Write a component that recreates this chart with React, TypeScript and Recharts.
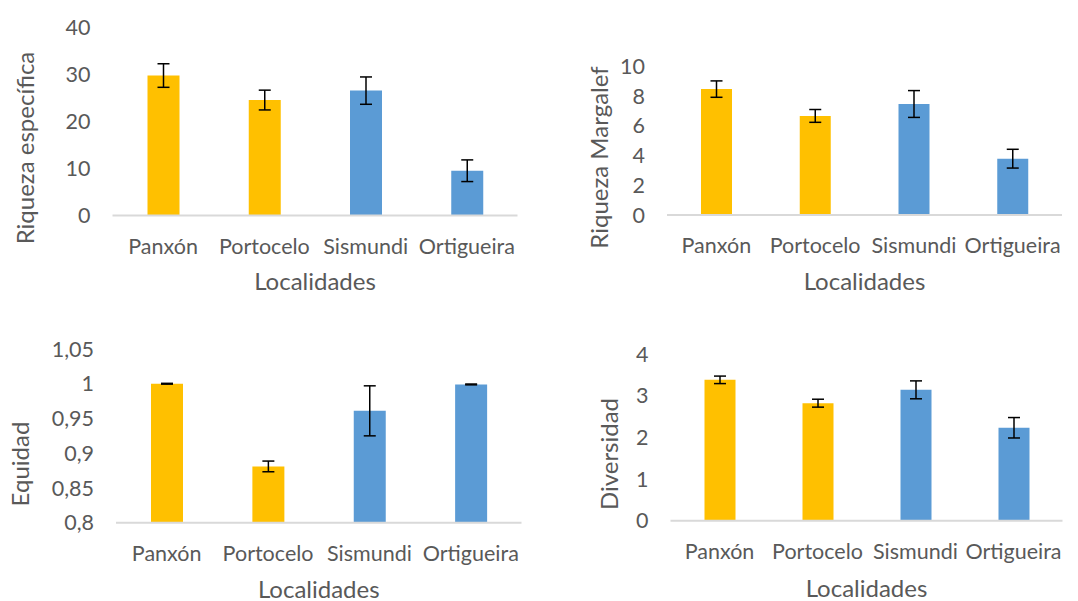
import React from 'react';
import { BarChart, Bar, XAxis, YAxis, Cell, ErrorBar, Label } from 'recharts';

const localidades = ['Panxón', 'Portocelo', 'Sismundi', 'Ortigueira'];

const riquezaEspecifica = [29.7, 24.5, 26.5, 9.5];
const riquezaEspecificaErr = [2.5, 2.1, 2.9, 2.3];
const riquezaEspecificaTicks = [0, 10, 20, 30, 40];

const riquezaMargalef = [8.45, 6.65, 7.45, 3.78];
const riquezaMargalefErr = [0.55, 0.43, 0.9, 0.63];
const riquezaMargalefTicks = [0, 2, 4, 6, 8, 10];

const equidad = [1.0, 0.881, 0.961, 0.999];
const equidadErr = [0.0006, 0.0077, 0.036, 0.0006];
const equidadTicks = [0.8, 0.85, 0.9, 0.95, 1, 1.05];

const diversidad = [3.38, 2.82, 3.14, 2.23];
const diversidadErr = [0.09, 0.095, 0.215, 0.245];
const diversidadTicks = [0, 1, 2, 3, 4];

const barColors = ['#FFC000', '#FFC000', '#5B9BD5', '#5B9BD5'];
const TEXT = '#595959';
const FONT = 'Lato, "Open Sans", sans-serif';
const TICK_SIZE = 21.5;
const TITLE_SIZE = 24;

type Box = { left: number; top: number; width: number; height: number };
type Plot = { l: number; r: number; t: number; b: number };

interface PanelProps {
  values: number[];
  errors: number[];
  ticks: number[];
  yTitle: string;
  box: Box;
  plot: Plot; // plot area in page coordinates
  yTitleAt: [number, number]; // centre of rotated title, page coordinates
  xTitleBaseline: number;
  barSize: number;
}

const fmt = (v: number) => String(v).replace('.', ',');

function Panel({ values, errors, ticks, yTitle, box, plot, yTitleAt, xTitleBaseline, barSize }: PanelProps) {
  const data = localidades.map((name, i) => ({ name, value: values[i], err: errors[i] }));
  const yAxisWidth = plot.l - box.left;
  const xAxisHeight = 40;
  const margin = {
    top: plot.t - box.top,
    left: 0,
    right: box.left + box.width - plot.r,
    bottom: box.top + box.height - plot.b - xAxisHeight,
  };
  const yx = yTitleAt[0] - box.left;
  const yy = yTitleAt[1] - box.top;
  const xBase = xTitleBaseline - box.top;

  return (
    <div style={{ position: 'absolute', left: box.left, top: box.top }}>
      <BarChart width={box.width} height={box.height} data={data} margin={margin} barSize={barSize}>
        <XAxis
          dataKey="name"
          height={xAxisHeight}
          axisLine={{ stroke: '#D9D9D9', strokeWidth: 2 }}
          tickLine={false}
          tickSize={0}
          tickMargin={0}
          interval={0}
          tick={({ x, y, payload }: any) => (
            <text x={x} y={y + 38} textAnchor="middle" fill={TEXT} fontSize={TICK_SIZE} fontFamily={FONT}>
              {payload.value}
            </text>
          )}
        >
          <Label
            content={({ viewBox }: any) => (
              <text
                x={viewBox.x + viewBox.width / 2}
                y={xBase}
                textAnchor="middle"
                fill={TEXT}
                fontSize={TITLE_SIZE}
                fontFamily={FONT}
              >
                Localidades
              </text>
            )}
          />
        </XAxis>
        <YAxis
          width={yAxisWidth}
          domain={[ticks[0], ticks[ticks.length - 1]]}
          ticks={ticks}
          axisLine={false}
          tickLine={false}
          tickSize={0}
          tickMargin={22}
          tick={({ x, y, payload }: any) => (
            <text x={x} y={y} dy="0.36em" textAnchor="end" fill={TEXT} fontSize={TICK_SIZE} fontFamily={FONT}>
              {fmt(payload.value)}
            </text>
          )}
        >
          <Label
            content={() => (
              <text
                x={yx}
                y={yy}
                dy="0.36em"
                transform={`rotate(-90 ${yx} ${yy})`}
                textAnchor="middle"
                fill={TEXT}
                fontSize={TITLE_SIZE}
                fontFamily={FONT}
              >
                {yTitle}
              </text>
            )}
          />
        </YAxis>
        <Bar dataKey="value" isAnimationActive={false}>
          {data.map((d, i) => (
            <Cell key={d.name} fill={barColors[i]} />
          ))}
          <ErrorBar dataKey="err" direction="y" width={6} stroke="#000" strokeWidth={1.5} isAnimationActive={false} />
        </Bar>
      </BarChart>
    </div>
  );
}

export default function App() {
  return (
    <div style={{ position: 'absolute', left: 0, top: 0, width: 1078, height: 601, background: '#fff' }}>
      <Panel
        values={riquezaEspecifica}
        errors={riquezaEspecificaErr}
        ticks={riquezaEspecificaTicks}
        yTitle="Riqueza específica"
        box={{ left: 0, top: 0, width: 540, height: 305 }}
        plot={{ l: 112.5, r: 517.5, t: 27, b: 215.5 }}
        yTitleAt={[25, 148]}
        xTitleBaseline={290}
        barSize={32}
      />
      <Panel
        values={riquezaMargalef}
        errors={riquezaMargalefErr}
        ticks={riquezaMargalefTicks}
        yTitle="Riqueza Margalef"
        box={{ left: 540, top: 0, width: 538, height: 305 }}
        plot={{ l: 667, r: 1062, t: 66, b: 215 }}
        yTitleAt={[599, 157.5]}
        xTitleBaseline={290}
        barSize={31}
      />
      <Panel
        values={equidad}
        errors={equidadErr}
        ticks={equidadTicks}
        yTitle="Equidad"
        box={{ left: 0, top: 305, width: 540, height: 296 }}
        plot={{ l: 116, r: 521.5, t: 349, b: 522.7 }}
        yTitleAt={[20, 464]}
        xTitleBaseline={597.5}
        barSize={32}
      />
      <Panel
        values={diversidad}
        errors={diversidadErr}
        ticks={diversidadTicks}
        yTitle="Diversidad"
        box={{ left: 540, top: 305, width: 538, height: 296 }}
        plot={{ l: 670.5, r: 1062.5, t: 354, b: 520.7 }}
        yTitleAt={[609, 454]}
        xTitleBaseline={596.5}
        barSize={31}
      />
    </div>
  );
}
